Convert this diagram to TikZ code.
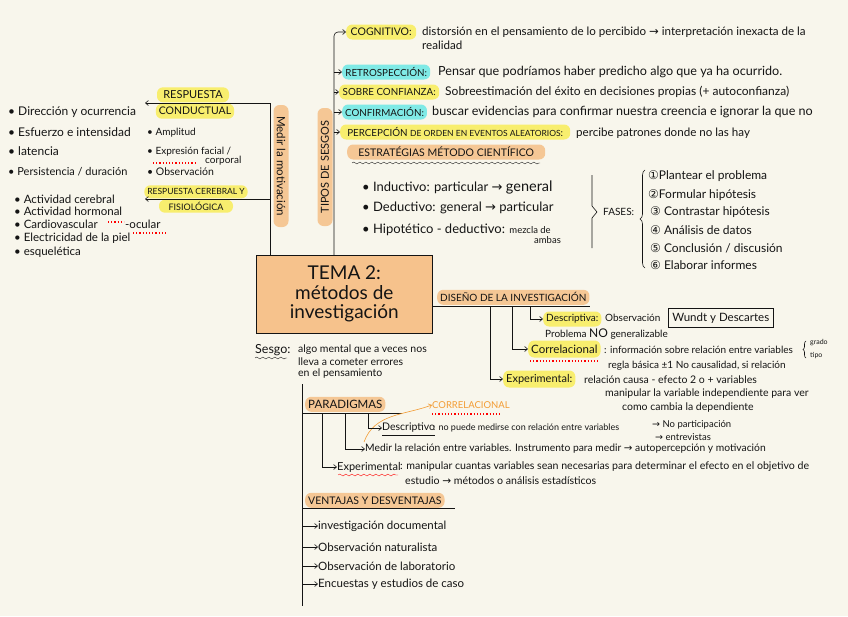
\documentclass[tikz,border=0pt]{standalone}
\usepackage{fontspec}
\setmainfont{Lato}
\newfontfamily\symf{DejaVu Sans}
\usetikzlibrary{arrows.meta,positioning,decorations.pathmorphing,decorations.pathreplacing}
\definecolor{paper}{HTML}{F8F6EC}
\definecolor{hlyellow}{HTML}{F8EE6E}
\definecolor{hlcyan}{HTML}{80EAE6}
\definecolor{hlpeach}{HTML}{F5C795}
\definecolor{boxpeach}{HTML}{F6C28C}
\definecolor{penorange}{HTML}{F39C34}
\definecolor{ink}{HTML}{141414}
\newcommand{\flecha}{{\symf →}}
\newcommand{\fsz}[1]{\fontsize{#1}{#1}\selectfont}
\begin{document}
\begin{tikzpicture}[
  x=1pt,y=-1pt,
  ink,
  pill/.style={rounded corners=6pt,inner xsep=3pt,inner ysep=1pt,minimum height=15,font=\fsz{9.8}},
  pillY/.style={pill,fill=hlyellow},
  pillC/.style={pill,fill=hlcyan},
  pillO/.style={pill,fill=hlpeach},
  txt/.style={anchor=west,inner sep=0pt,font=\fsz{11}},
  note/.style={txt,font=\fsz{10}},
  tiny/.style={txt,font=\fsz{7}},
  flow/.style={-{Straight Barb[length=3pt,width=5pt]},semithick},
  stem/.style={semithick},
  reddots/.style={red,dotted,line width=1.2pt},
  wavy/.style={decorate,decoration={snake,amplitude=1pt,segment length=6pt}}
]
\fill[paper] (0,0) rectangle (848,616);
\useasboundingbox (0,0) rectangle (848,616);

% tema central
\node[draw,semithick,fill=boxpeach,minimum width=176,minimum height=78,anchor=north west,align=center,font=\fontsize{19}{19.5}\selectfont] (tema) at (256,255) {TEMA 2:\\métodos de\\investigación};

% tipos de sesgos
\coordinate (sBase) at (334,255);
\node[pillO,rotate=90,minimum width=118,font=\fsz{11}] (tipos) at (325,167) {TIPOS DE SESGOS};
\node[pillY,anchor=west,minimum width=70,font=\fsz{10.5}] (cog) at (346,32) {COGNITIVO:};
\node[pillC,anchor=west,minimum width=88] (retro) at (342,72) {RETROSPECCIÓN:};
\node[pillY,anchor=west,minimum width=100] (sobre) at (339,92) {SOBRE CONFIANZA:};
\node[pillC,anchor=west,minimum width=82] (confir) at (342,112) {CONFIRMACIÓN:};
\node[pillY,anchor=west,minimum width=230] (percep) at (340,132) {PERCEPCIÓN {\fsz{8.5}DE ORDEN EN EVENTOS ALEATORIOS}:};
\draw[flow,rounded corners=4pt] (sBase) |- (cog.west);
\draw[flow] (sBase |- retro.west) -- (retro.west);
\draw[flow] (sBase |- sobre.west) -- (sobre.west);
\draw[flow] (sBase |- confir.west) -- (confir.west);
\draw[flow] (sBase |- percep.west) -- (percep.west);
\node[txt,font=\fsz{11.6}] (cogTxt) at (422,32) {distorsión en el pensamiento de lo percibido \flecha{} interpretación inexacta de la};
\node[txt,font=\fsz{11.6}] (cogTxt2) at (422,45) {realidad};
\node[txt,font=\fsz{12.6}] (retroTxt) at (438,72) {Pensar que podríamos haber predicho algo que ya ha ocurrido.};
\node[txt,font=\fsz{12}] (sobreTxt) at (445,92) {Sobreestimación del éxito en decisiones propias (+ autoconfianza)};
\node[txt,font=\fsz{12.6}] (confirTxt) at (432,112) {buscar evidencias para confirmar nuestra creencia e ignorar la que no};
\node[txt,font=\fsz{11.6}] (percepTxt) at (576,133) {percibe patrones donde no las hay};

% estrategias
\node[pillO,anchor=west,minimum width=198,font=\fsz{10.5}] (estrat) at (347,152) {ESTRATÉGIAS MÉTODO CIENTÍFICO};
\draw[wavy] (352,163) -- (540,163);
\node[txt,font=\fsz{13}] (induc) at (362,187) {• Inductivo: particular \flecha{} {\fsz{14.5}general}};
\node[txt,font=\fsz{13}] (deduc) at (362,208) {• Deductivo: general \flecha{} particular};
\node[txt,font=\fsz{13}] (hipot) at (362,230) {• Hipotético - deductivo: {\fsz{9.5}mezcla de}};
\node[tiny,font=\fsz{9.5}] (ambas) at (534,240) {ambas};
\draw[semithick] (592,175) -- (592,206) -- (597,212) -- (592,218) -- (592,248);
\node[note] (fases) at (603,212) {FASES:};
\draw[semithick,decorate,decoration={brace,amplitude=5pt}] (645,268) -- (645,170);
\node[txt,font=\fsz{12}] (f1) at (648,176) {{\symf ①}Plantear el problema};
\node[txt,font=\fsz{12}] (f2) at (648,195) {{\symf ②}Formular hipótesis};
\node[txt,font=\fsz{12}] (f3) at (650,212) {{\symf ③} Contrastar hipótesis};
\node[txt,font=\fsz{12}] (f4) at (650,230) {{\symf ④} Análisis de datos};
\node[txt,font=\fsz{12}] (f5) at (650,248) {{\symf ⑤} Conclusión / discusión};
\node[txt,font=\fsz{12}] (f6) at (650,265) {{\symf ⑥} Elaborar informes};

% medir la motivacion
\coordinate (mBase) at (270,255);
\coordinate (condTip) at (145,103);
\coordinate (fisioTip) at (145,199);
\node[pillO,rotate=-90,minimum width=122,font=\fsz{11.5}] (medir) at (281,166) {Medir la motivación};
\node[pillY,anchor=south,minimum width=72,font=\fsz{11}] (resp1) at (193,102.5) {RESPUESTA};
\node[pillY,anchor=north,minimum width=76,font=\fsz{10.5}] (resp2) at (195,103.5) {CONDUCTUAL};
\node[pillY,anchor=south,minimum width=94,minimum height=13,font=\fsz{8.5}] (cereb1) at (196,198.5) {RESPUESTA CEREBRAL Y};
\node[pillY,anchor=north,minimum width=74,minimum height=13,font=\fsz{9}] (cereb2) at (196,199.5) {FISIOLÓGICA};
\draw[flow] (mBase) |- (condTip);
\draw[flow] (mBase |- fisioTip) -- (fisioTip);
\node[txt,font=\fsz{12}] (dir) at (8,112) {• Dirección y ocurrencia};
\node[txt,font=\fsz{12}] (esf) at (8,132) {• Esfuerzo e intensidad};
\node[txt,font=\fsz{12}] (lat) at (8,151) {• latencia};
\node[txt,font=\fsz{11}] (pers) at (8,172) {• Persistencia / duración};
\node[note] (ampl) at (147,133) {• Amplitud};
\node[note] (expr) at (147,152) {• Expresión facial /};
\node[note] (corp) at (205,161) {corporal};
\draw[reddots] (153,163) -- (196,163);
\node[note,font=\fsz{10.5}] (obs) at (147,172) {• Observación};
\node[txt,font=\fsz{11.5}] (acer) at (14,199) {• Actividad cerebral};
\node[txt,font=\fsz{11.5}] (ahor) at (14,211) {• Actividad hormonal};
\node[txt,font=\fsz{11.5}] (card) at (14,224) {• Cardiovascular};
\draw[reddots] (108,222) -- (124,222);
\node[txt,font=\fsz{11.5}] (ocul) at (125,224) {-ocular};
\draw[reddots] (133,233) -- (167,233);
\node[txt,font=\fsz{11.5}] (elec) at (14,238) {• Electricidad de la piel};
\node[txt,font=\fsz{11.5}] (esq) at (14,252) {• esquelética};

% sesgo
\node[txt,font=\fsz{12.5}] (sesgo) at (255,350) {Sesgo:};
\draw[wavy] (255,358) -- (287,358);
\node[note,font=\fsz{10.5}] (sesgo1) at (298,350) {algo mental que a veces nos};
\node[note,font=\fsz{10.5}] (sesgo2) at (298,362) {lleva a cometer errores};
\node[note,font=\fsz{10.5}] (sesgo3) at (298,374) {en el pensamiento};

% diseno de la investigacion
\coordinate (dLine) at (590,306);
\coordinate (dA) at (530,306);
\coordinate (dB) at (512,306);
\coordinate (dC) at (490,306);
\node[pillO,anchor=south west,minimum width=143,font=\fsz{10}] (diseno) at (437,305) {DISEÑO DE LA INVESTIGACIÓN};
\draw[stem] (tema.east |- dLine) -- (dLine);
\node[pillY,anchor=west,minimum width=57,font=\fsz{10}] (descr) at (543,319) {Descriptiva:};
\node[pillY,anchor=west,minimum width=72,minimum height=17,font=\fsz{11.5}] (correl) at (528,349) {Correlacional};
\node[pillY,anchor=west,minimum width=72,minimum height=17,font=\fsz{11}] (exper) at (503,379) {Experimental:};
\draw[flow] (dA) |- (descr.west);
\draw[flow] (dB) |- (correl.west);
\draw[flow] (dC) |- (exper.west);
\node[note] (obsv) at (605,318) {Observación};
\node[draw,semithick,anchor=west,minimum height=19,inner xsep=4pt,font=\fsz{11.5}] (wundt) at (668,318) {Wundt y Descartes};
\node[note] (probl) at (545,334) {Problema {\fsz{12}NO} generalizable};
\draw[reddots] (530,361) -- (600,361);
\node[note] (correlTxt) at (604,350) {: información sobre relación entre variables};
\draw[semithick,decorate,decoration={brace,amplitude=3pt}] (806,358) -- (806,341);
\node[tiny] (grado) at (810,343) {grado};
\node[tiny] (tipo) at (810,356) {tipo};
\node[note] (regla) at (608,366) {regla básica ±1 No causalidad, si relación};
\node[note,font=\fsz{10.5}] (experTxt) at (584,380) {relación causa - efecto 2 o + variables};
\node[note,font=\fsz{10.5}] (experTxt2) at (605,394) {manipular la variable independiente para ver};
\node[note,font=\fsz{10.5}] (experTxt3) at (622,408) {como cambia la dependiente};

% paradigmas
\coordinate (pTop) at (302,384);
\coordinate (pBot) at (302,606);
\coordinate (parLine) at (402,413);
\coordinate (pA) at (368,413);
\coordinate (pB) at (345,413);
\coordinate (pC) at (322,413);
\coordinate (pOrig) at (364,442);
\draw[stem] (pTop) -- (pBot);
\node[pillO,anchor=south west,minimum width=78,font=\fsz{11.5}] (parad) at (305,412) {PARADIGMAS};
\draw[stem] (pTop |- parLine) -- (parLine);
\node[note,font=\fsz{10.5}] (pDesc) at (382,428) {Descriptivo};
\draw (pDesc.south west) ++(0,2) -- ([yshift=-2pt]pDesc.south east);
\node[note,font=\fsz{9}] (pDescTxt) at (433,428) {: no puede medirse con relación entre variables};
\node[note,font=\fsz{9.5}] (noPart) at (652,425) {\flecha{} No participación};
\node[note,font=\fsz{9.5}] (entrev) at (655,437) {\flecha{} entrevistas};
\node[note,penorange,font=\fsz{9.5}] (corrOr) at (432,405) {CORRELACIONAL};
\draw[reddots] (432,414) -- (500,414);
\draw[flow,penorange] (pOrig) to[out=70,in=200] (corrOr.west);
\node[note,font=\fsz{10.3}] (pMedir) at (365,449) {Medir la relación entre variables. Instrumento para medir \flecha{} autopercepción y motivación};
\node[note,font=\fsz{11}] (pExp) at (337,467) {Experimental};
\draw[red,wavy] (338,475) -- (398,475);
\node[note,font=\fsz{10.6}] (pExpTxt) at (400,467) {: manipular cuantas variables sean necesarias para determinar el efecto en el objetivo de};
\node[note,font=\fsz{10.6}] (pExpTxt2) at (405,481) {estudio \flecha{} métodos o análisis estadísticos};
\draw[flow] (pA) |- (pDesc.west);
\draw[flow] (pB) |- (pMedir.west);
\draw[flow] (pC) |- (pExp.west);

% ventajas y desventajas
\node[pillO,anchor=south west,minimum width=130,font=\fsz{10.5}] (vent) at (305,508) {VENTAJAS Y DESVENTAJAS};
\draw[stem] (pTop |- vent.south) -- (455,508);
\foreach \y/\t [count=\i] in {526/investigación documental,547/Observación naturalista,566/Observación de laboratorio,584/Encuestas y estudios de caso}{
  \node[txt,font=\fsz{11.5}] (vent\i) at (318,\y) {\t};
  \draw[flow] (pTop |- vent\i.west) -- (vent\i.west);
}
\end{tikzpicture}
\end{document}
